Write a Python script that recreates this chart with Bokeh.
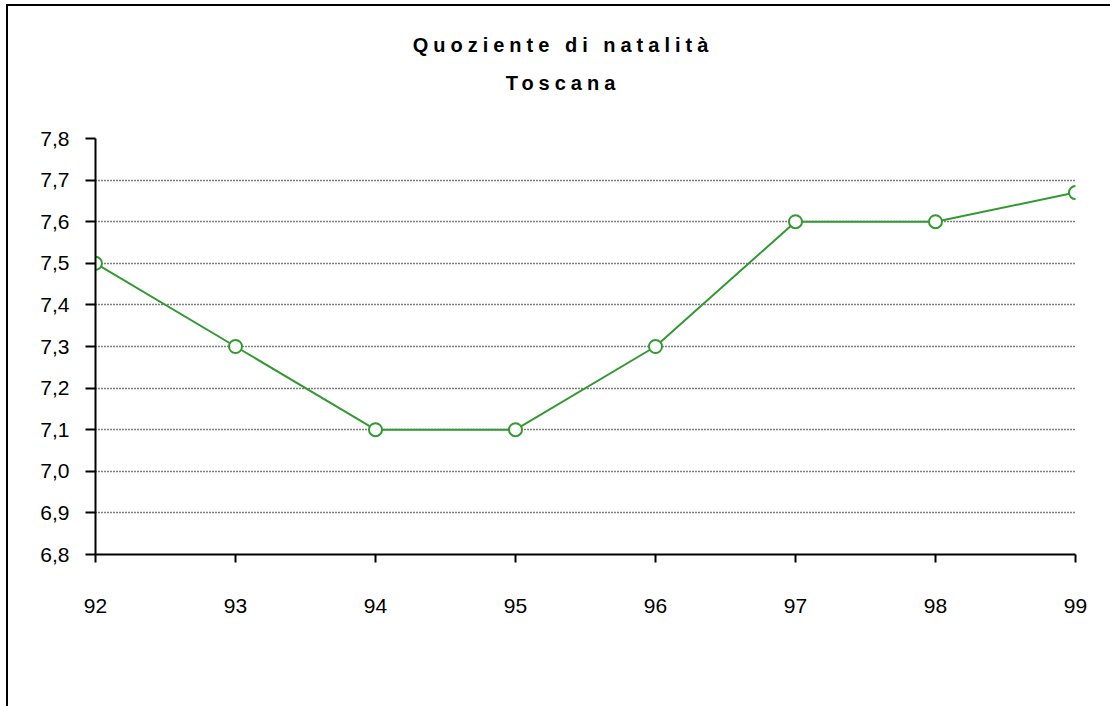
from bokeh.plotting import figure
from bokeh.models import Range1d, FixedTicker, CustomJSTickFormatter, Div, ColumnDataSource
from bokeh.layouts import column
from bokeh.embed import file_html
from bokeh.resources import INLINE

# Data
years = [92, 93, 94, 95, 96, 97, 98, 99]
values = [7.5, 7.3, 7.1, 7.1, 7.3, 7.6, 7.6, 7.67]
y_ticks = [6.8, 6.9, 7.0, 7.1, 7.2, 7.3, 7.4, 7.5, 7.6, 7.7, 7.8]
title_line1 = "Quoziente di natalità"
title_line2 = "Toscana"

GREEN = "#339933"
FONT = "Liberation Sans"

title = Div(
    text=(f'<div style="width:1100px;text-align:center;font-family:\'{FONT}\';font-weight:bold;'
          f'font-size:20px;letter-spacing:5px;line-height:38px;padding-top:15px;color:#000;">'
          f'{title_line1}<br>{title_line2}</div>'),
    width=1100, height=100,
)

p = figure(width=1100, height=596, output_backend="svg", toolbar_location=None,
           x_range=Range1d(92, 99), y_range=Range1d(6.8, 7.8),
           min_border_left=87, min_border_right=33, min_border_top=22, min_border_bottom=158)
p.outline_line_color = None
p.background_fill_color = "white"
p.border_fill_color = "white"

src = ColumnDataSource(dict(x=years, y=values))
p.line("x", "y", source=src, line_color=GREEN, line_width=2)
p.scatter("x", "y", source=src, size=13, fill_color="white", line_color=GREEN, line_width=2)

p.xgrid.visible = False
p.ygrid.ticker = FixedTicker(ticks=y_ticks)
p.ygrid.grid_line_color = "black"
p.ygrid.grid_line_dash = "1 2"
p.ygrid.grid_line_width = 1.5

for ax in (p.xaxis[0], p.yaxis[0]):
    ax.axis_line_color = "black"
    ax.axis_line_width = 2
    ax.major_tick_line_color = "black"
    ax.major_tick_line_width = 2
    ax.major_tick_in = 0
    ax.minor_tick_line_color = None
    ax.major_label_text_font = FONT
    ax.major_label_text_font_size = "21px"
    ax.major_label_text_color = "black"

p.xaxis.ticker = FixedTicker(ticks=years)
p.xaxis.major_tick_out = 8
p.xaxis.major_label_standoff = 36

p.yaxis.ticker = FixedTicker(ticks=y_ticks)
p.yaxis.major_tick_out = 10
p.yaxis.major_label_standoff = 16
p.yaxis.formatter = CustomJSTickFormatter(code="return tick.toFixed(1).replace('.', ',');")

layout = column(title, p, spacing=0)
layout.styles = {"border-top": "2px solid black", "border-left": "2px solid black",
                 "background-color": "white", "margin-left": "6px", "margin-top": "4px"}

open("out.html", "w").write(file_html(layout, INLINE))
